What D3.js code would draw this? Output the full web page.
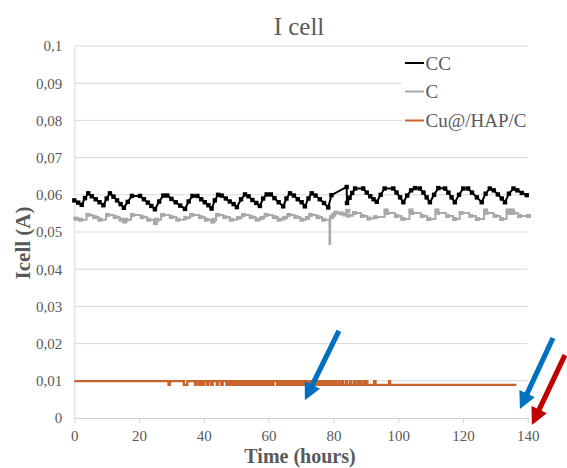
<!DOCTYPE html>
<html><head><meta charset="utf-8">
<script src="https://cdn.jsdelivr.net/npm/d3@7"></script>
<style>
body{margin:0;background:#fff}
svg{display:block}
text{font-family:"Liberation Serif",serif;fill:#595959}
</style>
</head><body>
<svg id="chart" width="567" height="468"></svg>
<script>
const chartTitle = "I cell";
const xTitle = "Time (hours)";
const yTitle = "Icell (A)";
const xTicks = [0, 20, 40, 60, 80, 100, 120, 140];
const yTicks = [0, 0.01, 0.02, 0.03, 0.04, 0.05, 0.06, 0.07, 0.08, 0.09, 0.1];
const yTickLabels = ["0", "0,01", "0,02", "0,03", "0,04", "0,05", "0,06", "0,07", "0,08", "0,09", "0,1"];
const seriesNames = ["CC", "C", "Cu@/HAP/C"];
const seriesColors = ["#000000", "#a9a9a9", "#c9652c"];

// CC: [hours, A]
const ccData = [
[0,0.0585],[1.2,0.0579],[2.3,0.0573],[3.3,0.0591],[4.3,0.0604],[5.4,0.0596],[6.6,0.0588],[7.8,0.0580],[9.0,0.0572],
[10.0,0.0590],[11.0,0.0604],[12.1,0.0595],[13.2,0.0585],[14.3,0.0575],[15.3,0.0565],
[16.5,0.0581],[17.8,0.0597],[20.3,0.0597],[21.5,0.0588],[22.7,0.0579],[23.8,0.0570],[24.9,0.0561],
[26.2,0.0582],[27.5,0.0598],[28.7,0.0598],[30.0,0.0589],[31.3,0.0580],[32.7,0.0571],[34.2,0.0562],
[35.3,0.0582],[36.5,0.0597],[38.0,0.0597],[39.2,0.0588],[40.3,0.0580],[41.4,0.0572],[42.4,0.0563],
[43.4,0.0585],[44.4,0.0600],[45.5,0.0598],[46.8,0.0590],[48.0,0.0582],[49.2,0.0575],[50.2,0.0567],
[51.5,0.0588],[52.7,0.0601],[53.8,0.0596],[55.0,0.0586],[56.2,0.0578],[57.3,0.0570],
[58.3,0.0590],[59.4,0.0601],[60.7,0.0601],[61.8,0.0591],[63.1,0.0580],[64.5,0.0569],
[65.5,0.0590],[66.6,0.0604],[67.8,0.0598],[69.0,0.0588],[70.2,0.0580],[71.2,0.0569],
[72.3,0.0590],[73.3,0.0604],[74.5,0.0598],[75.8,0.0588],[77.1,0.0578],[78.4,0.0566],
[79.4,0.0599],[84.1,0.0621],[84.2,0.0578],[85.0,0.0592],[85.8,0.0605],[86.7,0.0617],[89.2,0.0617],[90.3,0.0606],[91.4,0.0596],[92.4,0.0588],[93.4,0.0581],
[94.6,0.0600],[95.8,0.0617],[98.5,0.0617],[99.5,0.0606],[100.6,0.0593],[101.6,0.0580],
[102.8,0.0598],[104.0,0.0612],[105.2,0.0618],[106.7,0.0617],[107.8,0.0606],[108.8,0.0593],[109.8,0.0580],
[111.1,0.0600],[112.4,0.0618],[114.5,0.0617],[115.5,0.0606],[116.5,0.0593],[117.5,0.0580],
[118.8,0.0600],[120.1,0.0617],[121.6,0.0617],[122.8,0.0606],[124.3,0.0593],[125.8,0.0580],
[127.0,0.0603],[128.3,0.0617],[129.5,0.0612],[130.8,0.0601],[132.0,0.0590],[133.0,0.0580],
[134.2,0.0603],[135.6,0.0617],[136.8,0.0612],[138.2,0.0605],[139.7,0.0599]
];

// C: [hours, A] (step after)
const cData = [
[0,0.0536],[1.5,0.0533],[3.8,0.0546],[5.8,0.0540],[7.5,0.0533],[9.8,0.0546],[12.2,0.0540],[14.0,0.0533],[15.1,0.0528],[15.5,0.0533],
[17.5,0.0546],[20.5,0.0540],[22.5,0.0533],[24.6,0.0524],[25.0,0.0533],[26.8,0.0546],[29.5,0.0540],[31.5,0.0533],[34.0,0.0538],
[35.8,0.0546],[38.5,0.0540],[40.3,0.0533],[42.3,0.0528],[42.7,0.0533],[43.8,0.0546],[46.0,0.0540],[48.0,0.0533],[50.2,0.0538],
[51.8,0.0546],[54.2,0.0540],[56.0,0.0533],[57.5,0.0538],[58.8,0.0546],[61.3,0.0540],[62.8,0.0533],[64.5,0.0538],[65.8,0.0546],
[68.0,0.0540],[69.8,0.0533],[71.5,0.0538],[72.5,0.0546],[74.8,0.0540],[76.5,0.0533],[78.8,0.0468],[79.0,0.0540],[79.6,0.0546],
[80.3,0.0552],[82.0,0.0550],[83.2,0.0547],[84.0,0.0557],[84.2,0.0544],[86.0,0.0551],[88.5,0.0543],[90.5,0.0536],[92.5,0.0540],
[95.8,0.0558],[96.0,0.0551],[99.0,0.0543],[101.0,0.0535],[103.5,0.0558],[103.7,0.0551],[107.0,0.0543],[109.0,0.0535],
[111.5,0.0558],[111.7,0.0551],[114.8,0.0543],[117.0,0.0535],[119.0,0.0551],[122.0,0.0543],[124.0,0.0535],[126.5,0.0558],
[126.7,0.0551],[129.5,0.0543],[131.5,0.0535],[133.5,0.0558],[133.7,0.0551],[134.8,0.0558],[135.0,0.0551],[137.0,0.0543],[139.8,0.0543]
];

// Cu@/HAP/C: [hours, A] (step after)
const cuData = [
[0,0.0099],[29.1,0.0089],[29.5,0.0099],[33.8,0.0089],[34.9,0.0099],[37.3,0.0089],[37.7,0.0099],[38.5,0.0089],[38.9,0.0099],
[39.5,0.0089],[40.1,0.0099],[41.0,0.0089],[41.4,0.0099],[42.3,0.0089],[42.7,0.0099],[44.0,0.0089],[44.4,0.0099],[45.4,0.0089],
[45.8,0.0099],[47.0,0.0089],[47.3,0.0099],[47.9,0.0089],[48.2,0.0099],[48.7,0.0089],[49.1,0.0099],[49.6,0.0089],[49.9,0.0099],
[50.4,0.0089],[50.8,0.0099],[51.3,0.0089],[51.6,0.0099],[52.1,0.0089],[52.5,0.0099],[53.0,0.0089],[53.3,0.0099],[53.8,0.0089],
[54.2,0.0099],[54.7,0.0089],[55.1,0.0099],[55.6,0.0089],[55.9,0.0099],[56.5,0.0089],[57.0,0.0099],[57.6,0.0089],[57.9,0.0099],
[58.4,0.0089],[58.8,0.0099],[59.5,0.0089],[59.9,0.0099],[60.4,0.0089],[60.7,0.0099],[61.1,0.0089],[61.5,0.0099],[62.6,0.0089],
[62.9,0.0099],[63.4,0.0089],[63.9,0.0099],[64.3,0.0089],[64.7,0.0099],[65.1,0.0089],[65.5,0.0099],[66.0,0.0089],[66.4,0.0099],
[66.8,0.0089],[67.2,0.0099],[67.6,0.0089],[68.0,0.0099],[68.4,0.0089],[68.9,0.0099],[69.3,0.0089],[69.7,0.0099],[70.1,0.0089],
[70.6,0.0099],[70.9,0.0089],[71.4,0.0099],[71.7,0.0089],[72.3,0.0099],[72.7,0.0089],[73.2,0.0099],[73.6,0.0089],[74.1,0.0099],
[74.5,0.0089],[75.1,0.0099],[75.4,0.0089],[75.9,0.0099],[76.3,0.0089],[76.9,0.0099],[77.2,0.0089],[77.7,0.0099],[78.1,0.0089],
[78.7,0.0099],[79.0,0.0089],[79.5,0.0099],[79.9,0.0089],[80.4,0.0099],[80.8,0.0089],[81.6,0.0099],[81.9,0.0089],[82.7,0.0099],
[83.0,0.0089],[83.9,0.0099],[84.2,0.0089],[85.1,0.0099],[85.4,0.0089],[86.3,0.0099],[86.6,0.0089],[87.4,0.0099],[87.7,0.0089],
[88.4,0.0099],[88.6,0.0089],[89.4,0.0099],[89.7,0.0089],[90.3,0.0099],[90.5,0.0089],[92.6,0.0099],[93.0,0.0089],[97.2,0.0099],
[97.5,0.0089],[136.5,0.0089]
];

// annotation arrows in data coordinates: [hours, A]
const arrowFrom = [[81.7, 0.0234], [147.8, 0.0215], [151.5, 0.0169]];
const arrowTo = [[71.2, 0.0048], [137.6, 0.0024], [141.3, -0.0019]];
const arrowColors = ["#0070c0", "#0070c0", "#c00000"];

const svg = d3.select("#chart");
const margin = {left: 74.3, right: 527.7, top: 46, bottom: 418};
const x = d3.scaleLinear().domain([0, 140]).range([margin.left, margin.right]);
const y = d3.scaleLinear().domain([0, 0.1]).range([margin.bottom, margin.top]);

// gridlines
svg.append("g").selectAll("line").data(yTicks.filter(d => d > 0)).join("line")
  .attr("x1", x(0)).attr("x2", x(140))
  .attr("y1", d => y(d)).attr("y2", d => y(d))
  .attr("stroke", "#d9d9d9").attr("stroke-width", 1);

// y axis
const yAxis = svg.append("g").attr("transform", `translate(${x(0)},0)`)
  .call(d3.axisLeft(y).tickValues(yTicks).tickFormat((d, i) => yTickLabels[i]).tickSize(0).tickPadding(12));
yAxis.select(".domain").attr("stroke", "#d9d9d9");
yAxis.selectAll("text").style("font-size", "15px").attr("fill", "#595959").style("font-family", "Liberation Serif");

// x axis
const xAxis = svg.append("g").attr("transform", `translate(0,${y(0)})`)
  .call(d3.axisBottom(x).tickValues(xTicks).tickSize(5).tickPadding(7).tickSizeOuter(0));
xAxis.select(".domain").attr("stroke", "#d0d0d0");
xAxis.selectAll(".tick line").attr("stroke", "#d0d0d0");
xAxis.selectAll("text").style("font-size", "15px").attr("fill", "#595959").style("font-family", "Liberation Serif");

// legend background hides gridlines
svg.append("rect").attr("x", 402).attr("y", 50).attr("width", x(140) - 402 + 1).attr("height", 85).attr("fill", "#fff");

// series
const lineLin = d3.line().x(d => x(d[0])).y(d => y(d[1]));
const lineStep = d3.line().x(d => x(d[0])).y(d => y(d[1])).curve(d3.curveStepAfter);

svg.append("path").datum(cuData).attr("d", lineStep).attr("fill", "none")
  .attr("stroke", seriesColors[2]).attr("stroke-width", 2.4).attr("stroke-linejoin", "miter");

svg.append("path").datum(cData).attr("d", lineStep).attr("fill", "none")
  .attr("stroke", seriesColors[1]).attr("stroke-width", 2);
svg.append("g").selectAll("rect").data(cData.filter(d => d[1] > 0.05)).join("rect")
  .attr("x", d => x(d[0]) - 1).attr("y", d => y(d[1]) - 2)
  .attr("width", 5).attr("height", 4).attr("fill", seriesColors[1]);

svg.append("path").datum(ccData).attr("d", lineLin).attr("fill", "none")
  .attr("stroke", seriesColors[0]).attr("stroke-width", 2);
svg.append("g").selectAll("rect").data(ccData).join("rect")
  .attr("x", d => x(d[0]) - 2.2).attr("y", d => y(d[1]) - 2.2)
  .attr("width", 4.4).attr("height", 4.4).attr("fill", seriesColors[0]);

// title
svg.append("text").attr("x", 299).attr("y", 34.5).attr("text-anchor", "middle")
  .style("font-size", "25px").text(chartTitle);

// axis titles
svg.append("text").attr("x", 300).attr("y", 463).attr("text-anchor", "middle")
  .style("font-size", "20px").style("font-weight", "bold").text(xTitle);
svg.append("text").attr("transform", "translate(30,243) rotate(-90)").attr("text-anchor", "middle")
  .style("font-size", "21px").style("font-weight", "bold").text(yTitle);

// legend
const legendY = [63, 91.5, 120.5];
const lg = svg.append("g");
seriesNames.forEach((name, i) => {
  lg.append("line").attr("x1", 405).attr("x2", 424).attr("y1", legendY[i]).attr("y2", legendY[i])
    .attr("stroke", seriesColors[i]).attr("stroke-width", 2);
  lg.append("text").attr("x", 425.5).attr("y", legendY[i]).attr("dy", "0.35em")
    .style("font-size", "19px").text(name);
});

// arrows
arrowFrom.forEach((f, i) => {
  const x0 = x(f[0]), y0 = y(f[1]);
  const x1 = x(arrowTo[i][0]), y1 = y(arrowTo[i][1]);
  const dx = x1 - x0, dy = y1 - y0, L = Math.hypot(dx, dy);
  const ux = dx / L, uy = dy / L, px = -uy, py = ux;
  const sw = 2.6, hw = 8.5, hl = 17;
  const nx = x1 - ux * hl, ny = y1 - uy * hl;
  const pts = [
    [x0 + px * sw, y0 + py * sw],
    [nx + px * sw, ny + py * sw],
    [nx + px * hw, ny + py * hw],
    [x1, y1],
    [nx - px * hw, ny - py * hw],
    [nx - px * sw, ny - py * sw],
    [x0 - px * sw, y0 - py * sw]
  ];
  svg.append("polygon").attr("points", pts.map(p => p.join(",")).join(" ")).attr("fill", arrowColors[i]);
});
</script>
</body></html>
